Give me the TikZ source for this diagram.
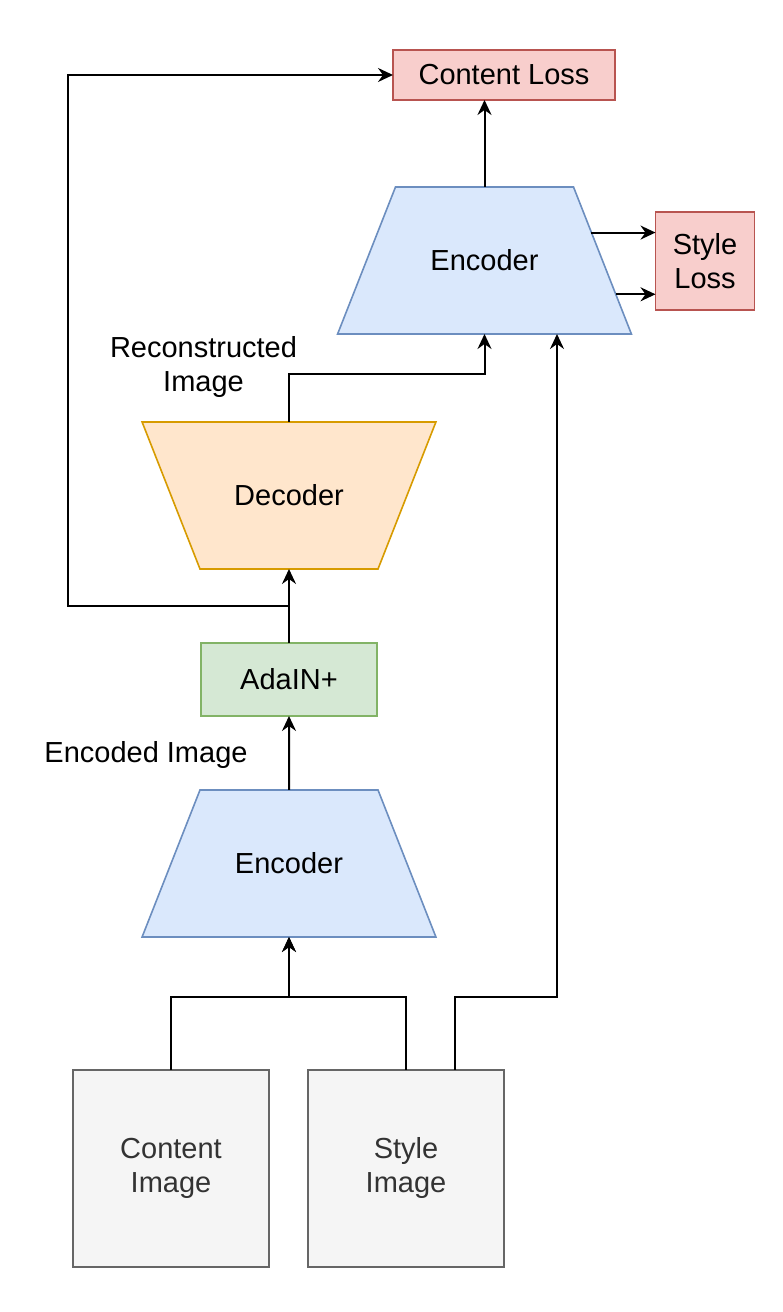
\documentclass[tikz,border=0pt]{standalone}
\usepackage{fontspec}
\setmainfont{Liberation Sans}
\usetikzlibrary{arrows.meta,positioning,shapes.geometric,calc}
\definecolor{encfill}{HTML}{DAE8FC}
\definecolor{encline}{HTML}{6C8EBF}
\definecolor{decfill}{HTML}{FFE6CC}
\definecolor{decline}{HTML}{D79B00}
\definecolor{adafill}{HTML}{D5E8D4}
\definecolor{adaline}{HTML}{82B366}
\definecolor{lossfill}{HTML}{F8CECC}
\definecolor{lossline}{HTML}{B85450}
\definecolor{imgfill}{HTML}{F5F5F5}
\definecolor{imgline}{HTML}{666666}
\definecolor{imgtext}{HTML}{333333}

\begin{document}
\begin{tikzpicture}[->,>={Stealth[length=15pt,width=14pt,inset=5pt]},line width=2pt,
  every node/.style={font=\fontsize{29}{34}\selectfont,align=center,outer sep=0pt,line width=1.6pt},
  trap/.style={draw,trapezium,trapezium left angle=68.5,trapezium right angle=68.5,
    inner xsep=0pt,text width=178pt,text height=20pt,text depth=0pt,inner ysep=63.5pt},
  enc/.style={trap,fill=encfill,draw=encline},
  dec/.style={trap,shape border rotate=180,fill=decfill,draw=decline},
  ada/.style={draw=adaline,fill=adafill,minimum width=176pt,minimum height=73pt},
  loss/.style={draw=lossline,fill=lossfill},
  imgbox/.style={draw=imgline,fill=imgfill,text=imgtext,minimum width=196pt,minimum height=197pt}]
  \useasboundingbox (0,0) rectangle (783pt,1312pt);
  \node[imgbox] (CI) at (171pt,143.5pt) {Content\\Image};
  \node[imgbox] (SI) [right=39pt of CI] {Style\\Image};
  \node[enc] (E1) at (289pt,448.5pt) {Encoder};
  \node[ada] (AI) [above=74pt of E1] {AdaIN+};
  \node[dec] (D) [above=74pt of AI] {Decoder};
  \node[enc] (E2) at (484.5pt,1051.5pt) {Encoder};
  \node[loss,minimum width=222pt,minimum height=50pt] (CL) at (504pt,1237pt) {Content Loss};
  \node[loss,minimum width=99pt,minimum height=98pt] (SL) at (705pt,1051pt) {Style\\Loss};
  \node (RI) at (203.5pt,945pt) {Reconstructed\\Image};
  \node (EI) at (146pt,557pt) {Encoded Image};
  % inputs
  \draw (CI.north) -- ++(0,73pt) -| (E1.south);
  \draw (SI.north) -- ++(0,73pt) -| (E1.south);
  \draw ([xshift=49pt]SI.north) -- ++(0,73pt) -| ([xshift=72.5pt]E2.south);
  \path (E1) edge (AI);
  \path (AI) edge (D);
  % content loss feedback
  \coordinate (fb) at ($(AI.north)!0.5!(D.south)$);
  \draw (fb) -- ++(-221pt,0) |- (CL.west);
  \draw (D.north) -- ++(0,48pt) -| (E2.south);
  \draw (E2.north) -- (E2.north |- CL.south);
  % style loss
  \coordinate (s1) at ($(E2.top right corner)!0.31!(E2.bottom right corner)$);
  \coordinate (s2) at ($(E2.top right corner)!0.73!(E2.bottom right corner)$);
  \draw (s1) -- (s1 -| SL.west);
  \draw (s2) -- (s2 -| SL.west);
\end{tikzpicture}
\end{document}
